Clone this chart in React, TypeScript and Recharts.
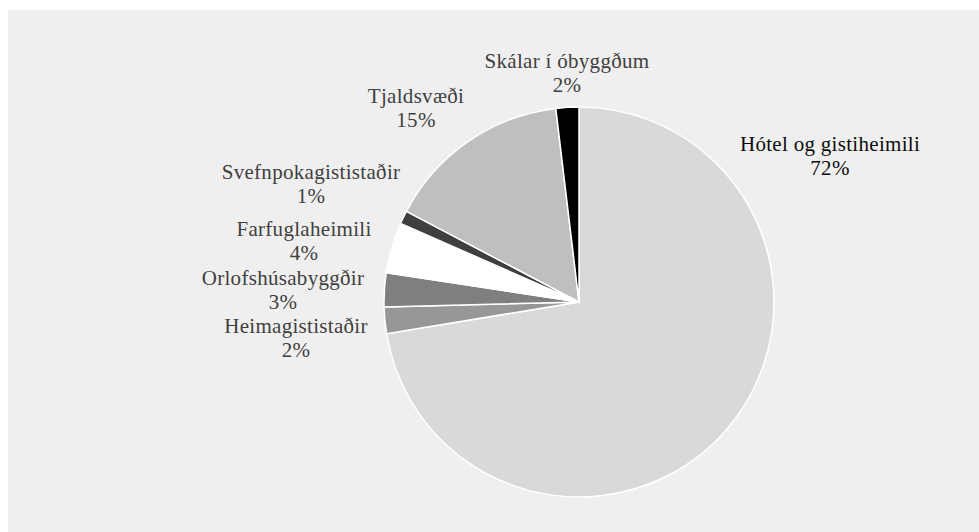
import { Cell, Pie, PieChart } from 'recharts'

// Gistinætur eftir tegund gististaðar (hlutfall)
const categories = [
  'Hótel og gistiheimili',
  'Heimagististaðir',
  'Orlofshúsabyggðir',
  'Farfuglaheimili',
  'Svefnpokagististaðir',
  'Tjaldsvæði',
  'Skálar í óbyggðum',
]
const shares = [72.4, 2.2, 2.8, 4.2, 1.1, 15.4, 1.9]

const sliceColors = ['#d9d9d9', '#979797', '#7f7f7f', '#ffffff', '#3f3f3f', '#bfbfbf', '#000000']

// label baseline, offset from the pie centre (px) — Excel "best fit" spots
const labelOffsets: [number, number][] = [
  [251, -151],
  [-283, 31],
  [-296, -17],
  [-275, -66],
  [-268, -123],
  [-163, -199],
  [-12, -234],
]

const chartData = categories.map((name, i) => ({ name, value: shares[i] }))

const FONT = 'Liberation Serif, DejaVu Serif, serif'

const renderLabel = (props: any) => {
  const { cx, cy, index, name, percent } = props
  const [dx, dy] = labelOffsets[index]
  const x = cx + dx
  const y = cy + dy
  return (
    <text
      x={x}
      y={y}
      textAnchor="middle"
      fontFamily={FONT}
      fontSize={21}
      letterSpacing={0.3}
      fill={index === 0 ? '#0d0d0d' : '#404040'}
    >
      <tspan x={x} dy={0}>
        {name}
      </tspan>
      <tspan x={x} dy={24}>
        {`${Math.round(percent * 100)}%`}
      </tspan>
    </text>
  )
}

export default function App() {
  return (
    <div style={{ width: 979, height: 532, position: 'relative', fontFamily: FONT }}>
      <style>{`body{margin:0;}`}</style>
      <div
        style={{
          position: 'absolute',
          left: 8,
          top: 10,
          width: 971,
          height: 522,
          background: '#efefef',
        }}
      >
        <PieChart width={971} height={522} margin={{ top: 0, right: 0, bottom: 0, left: 0 }}>
          <Pie
            data={chartData}
            dataKey="value"
            nameKey="name"
            cx={571}
            cy={292}
            outerRadius={195}
            startAngle={90}
            endAngle={-270}
            stroke="#ffffff"
            strokeWidth={1.5}
            labelLine={false}
            label={renderLabel}
            isAnimationActive={false}
          >
            {chartData.map((entry, index) => (
              <Cell key={`cell-${entry.name}`} fill={sliceColors[index]} />
            ))}
          </Pie>
        </PieChart>
      </div>
    </div>
  )
}
